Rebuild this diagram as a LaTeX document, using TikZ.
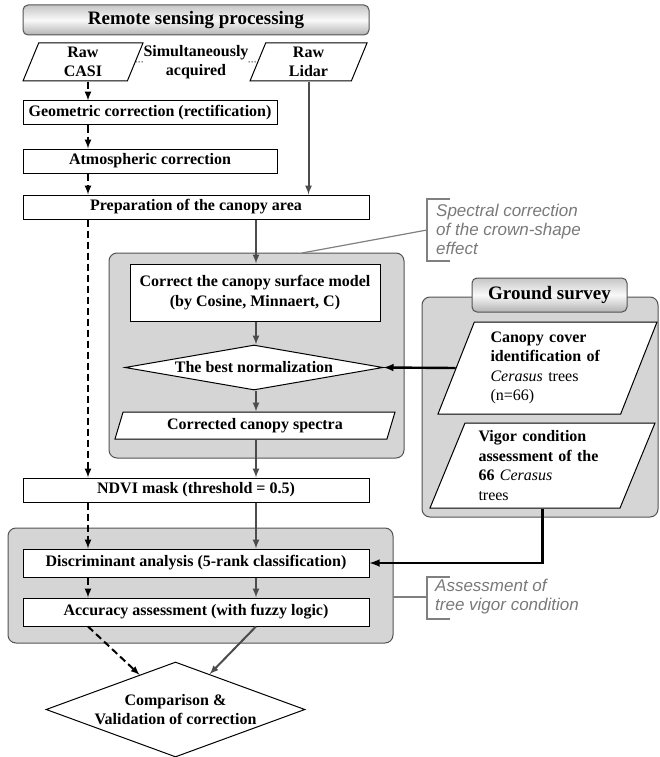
\documentclass[tikz,border=0pt]{standalone}
\usepackage{fontspec}
\setmainfont{Liberation Serif}
\newfontfamily\notefont{Liberation Sans}
\usetikzlibrary{shapes.geometric}
\newcommand\boxfont{\fontsize{16}{19.5}\selectfont\bfseries}

\begin{document}
\begin{tikzpicture}[x=1pt,y=-1pt,
    box/.style={draw, line width=1pt, fill=white, minimum height=24pt, inner sep=2pt, font=\boxfont},
    para/.style={trapezium, trapezium left angle=64, trapezium right angle=116,
      trapezium stretches body=true, draw, line width=1pt, fill=white, inner sep=1pt, font=\boxfont, align=center},
    panel/.style={draw=gray!65!black, line width=1pt, fill=gray!33, rounded corners=8pt},
    head/.style={draw=gray!65!black, line width=1pt, rounded corners=5pt, top color=gray!45, bottom color=gray!60,
      middle color=gray!5, font=\fontsize{19}{22}\selectfont\bfseries},
    flow/.style={-latex, draw=gray!60!black, line width=2pt},
    casiflow/.style={-latex, line width=2pt, dash pattern=on 7pt off 4pt},
    survey/.style={-latex, line width=2.4pt},
    note/.style={font=\notefont\itshape\fontsize{17}{19}\selectfont, text=gray!95!black, align=left, inner sep=0pt},
    notebar/.style={draw=gray, line width=1.2pt},
  ]
  \useasboundingbox (0,0) rectangle (660,757);

  % remote sensing chain
  \node[head, minimum width=346pt, minimum height=30pt] (rsp) at (196,20) {Remote sensing processing};
  \node[para, minimum width=120pt, minimum height=38pt] (casi) at (83,62) {Raw\\CASI};
  \node[font=\boxfont, align=center, inner sep=0pt] (simul) at (196,62) {Simultaneously\\acquired};
  \node[para, minimum width=117pt, minimum height=38pt] (lidar) at (308.5,62) {Raw\\Lidar};
  \draw[dotted, line width=1pt] (casi.east) -- (simul.west);
  \draw[dotted, line width=1pt] (simul.east) -- (lidar.west);

  \node[box, minimum width=254pt] (geo) at (150,113) {Geometric correction (rectification)};
  \node[box, minimum width=254pt] (atm) at (150,161) {Atmospheric correction};
  \node[box, minimum width=346pt] (prep) at (196,207) {Preparation of the canopy area};

  % crown-shape correction
  \draw[panel] (109,253) rectangle (404,458);
  \node[box, minimum width=250pt, minimum height=57pt, align=center] (csm) at (255,292.5)
    {Correct the canopy surface model\\(by Cosine, Minnaert, C)};
  \node[diamond, aspect=5.7, draw, line width=1pt, fill=white, minimum width=258pt, minimum height=45pt,
    inner sep=0pt, font=\boxfont] (norm) at (254,367.5) {The best normalization};
  \node[para, minimum width=280pt, minimum height=27pt] (spec) at (255,425.5) {Corrected canopy spectra};

  \node[note, anchor=west] (spnote) at (436,229) {Spectral correction\\of the crown-shape\\effect};
  \draw[notebar] (450,199) -- (427,199) -- (427,261) -- (450,261);
  \draw[notebar] (427,230) -- (302,253);

  \node[box, minimum width=346pt] (ndvi) at (196,490) {NDVI mask (threshold = 0.5)};

  % vigor assessment
  \draw[panel] (8,528) rectangle (393,643);
  \node[box, minimum width=346pt, minimum height=28pt] (disc) at (196,563) {Discriminant analysis (5-rank classification)};
  \node[box, minimum width=346pt, minimum height=28pt] (acc) at (196,612) {Accuracy assessment (with fuzzy logic)};
  \node[diamond, aspect=2.73, draw, line width=1pt, fill=white, minimum width=259pt, minimum height=95pt,
    inner sep=0pt, font=\boxfont, align=center] (comp) at (175.5,709.5) {Comparison \&\\Validation of correction};

  \node[note, anchor=west] (asnote) at (435,597) {Assessment of\\tree vigor condition};
  \draw[notebar] (450,577) -- (427,577) -- (427,619) -- (450,619);
  \draw[notebar] (393,597) -- (427,597);

  % ground survey
  \draw[panel] (422,297) rectangle (658,517);
  \node[head, minimum width=155pt, minimum height=34pt] (gs) at (549.5,295) {Ground survey};
  \node[para, minimum width=219pt, minimum height=92pt, text width=114pt, align=left] (cover) at (547.5,368)
    {Canopy cover\\identification of\\{\mdseries\itshape Cerasus} {\mdseries trees}\\{\mdseries (n=66)}};
  \node[para, minimum width=225pt, minimum height=85pt, text width=128pt, align=left] (vigor) at (542.5,465.5)
    {Vigor condition\\assessment of the\\66 {\mdseries\itshape Cerasus}\\{\mdseries trees}};

  % connectors
  \coordinate (dcol) at (88,0);
  \coordinate (scol) at (256,0);
  \draw[casiflow] (casi.south -| dcol) -- (geo.north -| dcol);
  \draw[casiflow] (geo.south -| dcol) -- (atm.north -| dcol);
  \draw[casiflow] (atm.south -| dcol) -- (prep.north -| dcol);
  \draw[casiflow] (prep.south -| dcol) -- (ndvi.north -| dcol);
  \draw[casiflow] (ndvi.south -| dcol) -- (disc.north -| dcol);
  \draw[casiflow] (disc.south -| dcol) -- (acc.north -| dcol);
  \draw[casiflow] (acc.south -| dcol) -- (comp.136);

  \draw[flow] (lidar.south) -- (prep.north -| lidar.south);
  \draw[flow] (prep.south -| scol) -- (csm.north -| scol);
  \draw[flow] (csm.south -| scol) -- (norm.north -| scol);
  \draw[flow] (norm.south -| scol) -- (spec.north -| scol);
  \draw[flow] (spec.south -| scol) -- (ndvi.north -| scol);
  \draw[flow] (ndvi.south -| scol) -- (disc.north -| scol);
  \draw[flow] (disc.south -| scol) -- (acc.north -| scol);
  \draw[flow] (acc.south -| scol) -- (comp.46);

  \draw[survey] (cover.west) -- (norm.east);
  \draw[survey] (vigor.south) |- (disc.east);
\end{tikzpicture}
\end{document}
